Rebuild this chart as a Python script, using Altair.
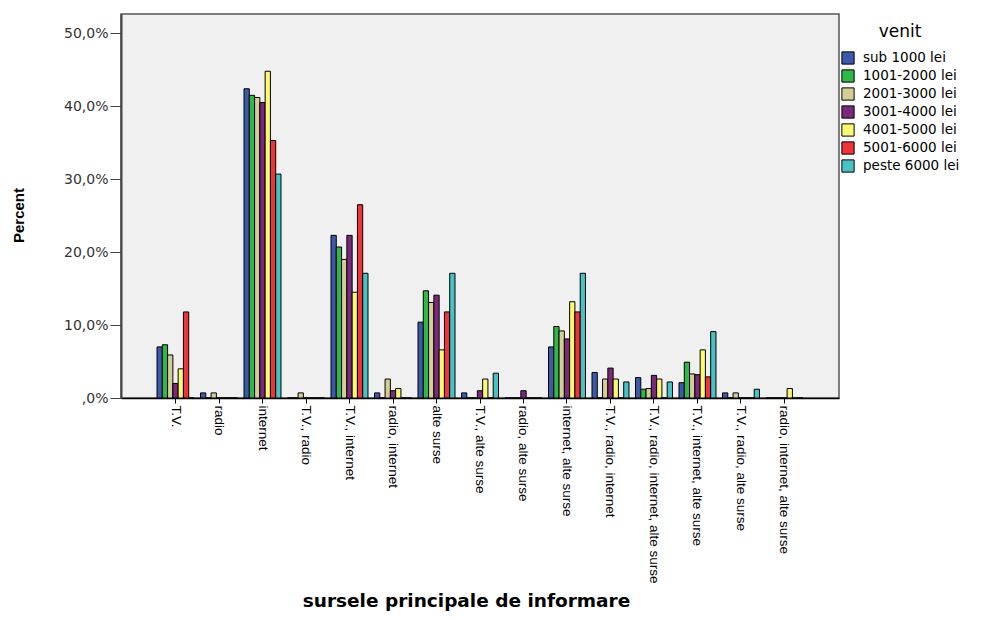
import altair as alt
import pandas as pd

categories = [
    "T.V.", "radio", "internet", "T.V., radio", "T.V., internet",
    "radio, internet", "alte surse", "T.V., alte surse", "radio, alte surse",
    "internet, alte surse", "T.V., radio, internet",
    "T.V., radio, internet, alte surse", "T.V., internet, alte surse",
    "T.V., radio, alte surse", "radio, internet, alte surse",
]

income = ["sub 1000 lei", "1001-2000 lei", "2001-3000 lei", "3001-4000 lei",
          "4001-5000 lei", "5001-6000 lei", "peste 6000 lei"]

colors = ["#3E58AC", "#2EB848", "#D3CE97", "#7C287D", "#FBF873", "#EF3338", "#48C2C5"]

sub_1000 = [7.0, 0.7, 42.4, 0.0, 22.3, 0.7, 10.4, 0.7, 0.0, 7.0, 3.5, 2.8, 2.1, 0.7, 0.0]
v_1001_2000 = [7.3, 0.0, 41.5, 0.0, 20.7, 0.0, 14.7, 0.0, 0.0, 9.8, 0.0, 1.2, 4.9, 0.0, 0.0]
v_2001_3000 = [5.9, 0.7, 41.2, 0.7, 19.0, 2.6, 13.1, 0.0, 0.0, 9.2, 2.6, 1.3, 3.3, 0.7, 0.0]
v_3001_4000 = [2.0, 0.0, 40.5, 0.0, 22.3, 1.0, 14.1, 1.0, 1.0, 8.1, 4.1, 3.1, 3.2, 0.0, 0.0]
v_4001_5000 = [4.0, 0.0, 44.8, 0.0, 14.5, 1.3, 6.6, 2.6, 0.0, 13.2, 2.6, 2.6, 6.6, 0.0, 1.3]
v_5001_6000 = [11.8, 0.0, 35.3, 0.0, 26.5, 0.0, 11.8, 0.0, 0.0, 11.8, 0.0, 0.0, 2.9, 0.0, 0.0]
peste_6000 = [0.0, 0.0, 30.7, 0.0, 17.1, 0.0, 17.1, 3.4, 0.0, 17.1, 2.2, 2.2, 9.1, 1.2, 0.0]

series = [sub_1000, v_1001_2000, v_2001_3000, v_3001_4000, v_4001_5000, v_5001_6000, peste_6000]

rows = []
for inc, vals in zip(income, series):
    for cat, v in zip(categories, vals):
        rows.append({"sursa": cat, "venit": inc, "percent": v})
df = pd.DataFrame(rows)

y_label_expr = "datum.value == 0 ? ',0%' : replace(format(datum.value, '.1f'), '.', ',') + '%'"

chart = alt.Chart(df).mark_bar(stroke="black", strokeWidth=1).encode(
    x=alt.X(
        "sursa:N",
        sort=categories,
        scale=alt.Scale(paddingInner=0.15, paddingOuter=0.828),
        axis=alt.Axis(
            title="sursele principale de informare",
            labelAngle=90, labelAlign="left", labelBaseline="middle",
            labelFont="Liberation Sans", labelFontSize=13.5, labelColor="black",
            labelLimit=500, labelPadding=2,
            tickSize=5, tickColor="black",
            domainColor="black", domainWidth=1.5,
            titleFont="DejaVu Sans", titleFontWeight="bold", titleFontSize=18.5,
            titleColor="black", titleX=345, titleY=208,
            titleAlign="center", titleBaseline="alphabetic",
        ),
    ),
    xOffset=alt.XOffset("venit:N", sort=income,
                        scale=alt.Scale(paddingInner=0, paddingOuter=0)),
    y=alt.Y(
        "percent:Q",
        scale=alt.Scale(domain=[0, 52.65], nice=False),
        axis=alt.Axis(
            title="Percent",
            values=[0, 10, 20, 30, 40, 50],
            labelExpr=y_label_expr,
            grid=False,
            labelFont="DejaVu Sans", labelFontSize=14, labelColor="#333333",
            labelPadding=2, tickSize=11, tickColor="#444444",
            domainColor="#444444", domainWidth=2,
            titleFont="Liberation Sans", titleFontWeight="bold", titleFontSize=15,
            titleColor="black", titleAngle=270, titleX=-103, titleY=201,
            titleAlign="center", titleBaseline="middle",
        ),
    ),
    color=alt.Color(
        "venit:N",
        sort=income,
        scale=alt.Scale(domain=income, range=colors),
        legend=alt.Legend(
            title="venit", orient="none", legendX=720, legendY=10,
            titleFont="DejaVu Sans", titleFontSize=17, titleFontWeight="normal",
            titleColor="black", titleAnchor="middle", titleAlign="center",
            titlePadding=10,
            labelFont="DejaVu Sans", labelFontSize=13.5, labelColor="black",
            labelOffset=8, labelLimit=300,
            symbolType="square", symbolSize=150, symbolStrokeColor="black",
            symbolStrokeWidth=1, symbolOpacity=1, rowPadding=0, padding=0,
        ),
    ),
).properties(
    width=718,
    height=384,
    autosize=alt.AutoSizeParams(type="none"),
    padding={"left": 113, "top": 6, "right": 142, "bottom": 214},
    background="white",
).configure_view(
    fill="#F0F0F0", stroke="#555555", strokeWidth=1.5
)

chart.save("out.html", embed_options={"renderer": "svg", "actions": False})
